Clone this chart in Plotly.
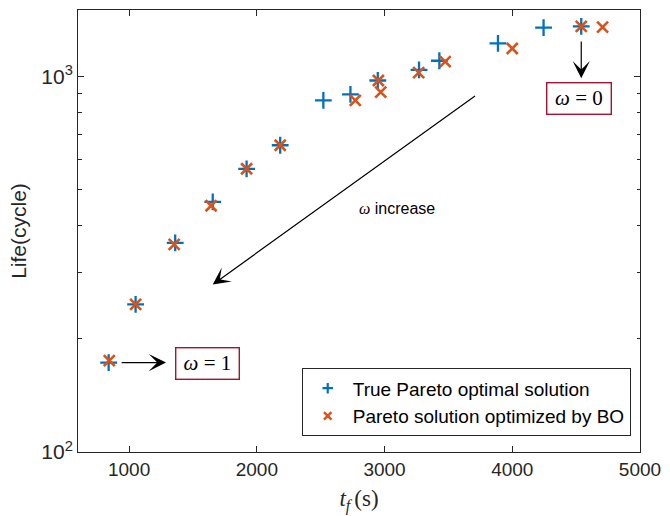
import math
import plotly.graph_objects as go

# ---------------- data ----------------
true_tf = [840, 1051, 1361, 1655, 1920, 2183, 2521, 2733, 2947, 3270, 3429, 3888, 4245, 4540]
true_life = [173, 247, 360, 463, 567, 655, 862, 894, 974, 1039, 1099, 1222, 1346, 1357]
bo_tf = [845, 1051, 1353, 1642, 1920, 2183, 2771, 2952, 2970, 3267, 3475, 4000, 4540, 4707]
bo_life = [175, 247, 357, 452, 567, 655, 862, 974, 907, 1022, 1093, 1185, 1357, 1351]

series_names = ["True Pareto optimal solution", "Pareto solution optimized by BO"]
x_ticks = [1000, 2000, 3000, 4000, 5000]
y_ticks = [100, 1000]
y_tick_text = ["10<sup>2</sup>", "10<sup>3</sup>"]
y_minor = [200, 300, 400, 500, 600, 700, 800, 900]

BLUE = "#0072BD"
ORANGE = "#D95319"
AXC = "#262626"
BOXC = "#A2142F"
SANS = "Liberation Sans, Arial, sans-serif"
SERIF = "Liberation Serif, Times New Roman, serif"

fig = go.Figure()
fig.add_trace(go.Scatter(x=true_tf, y=true_life, mode="markers", showlegend=False,
                         marker=dict(symbol="cross-thin", size=12, color=BLUE,
                                     line=dict(color=BLUE, width=2.3))))
fig.add_trace(go.Scatter(x=bo_tf, y=bo_life, mode="markers", showlegend=False,
                         marker=dict(symbol="x-thin", size=11, color=ORANGE,
                                     line=dict(color=ORANGE, width=2.6))))
# legend entries (smaller markers like the reference legend)
fig.add_trace(go.Scatter(x=[None], y=[None], mode="markers", name=series_names[0],
                         marker=dict(symbol="cross-thin", size=7.5, color=BLUE,
                                     line=dict(color=BLUE, width=2.2))))
fig.add_trace(go.Scatter(x=[None], y=[None], mode="markers", name=series_names[1],
                         marker=dict(symbol="x-thin", size=7.5, color=ORANGE,
                                     line=dict(color=ORANGE, width=2.4))))

L = math.log10
AH = dict(showarrow=True, arrowhead=3, arrowsize=2.4, arrowwidth=1.2, arrowcolor="black", text="")
annotations = [
    # omega increase arrow
    dict(x=1655, y=L(279), ax=3720, ay=L(892), axref="x", ayref="y", xref="x", yref="y", **AH),
    dict(x=3094, y=L(445), xref="x", yref="y", showarrow=False,
         text='<span style="font-family:Liberation Serif;font-style:italic">ω</span> increase',
         font=dict(family=SANS, size=16, color="black")),
    # omega = 1
    dict(x=1289, y=L(173), ax=930, ay=L(173), axref="x", ayref="y", xref="x", yref="y", **AH),
    dict(x=1614, y=2.2344, xref="x", yref="y", showarrow=False,
         text="<i>ω</i> = 1", font=dict(family=SERIF, size=21, color="black"),
         bordercolor=BOXC, borderwidth=1.4, borderpad=0, width=62, height=30, bgcolor="white"),
    # omega = 0
    dict(x=4540, y=2.9947, ax=4540, ay=3.0960, axref="x", ayref="y", xref="x", yref="y", **AH),
    dict(x=4519, y=2.9394, xref="x", yref="y", showarrow=False,
         text="<i>ω</i> = 0", font=dict(family=SERIF, size=21, color="black"),
         bordercolor=BOXC, borderwidth=1.4, borderpad=0, width=63, height=30, bgcolor="white"),
]

fig.update_layout(
    width=670, height=516,
    margin=dict(l=78, r=24, t=9, b=60),
    paper_bgcolor="white", plot_bgcolor="white",
    font=dict(family=SANS, size=19, color=AXC),
    annotations=annotations,
    legend=dict(x=0.9835, y=0.1124, xanchor="right", yanchor="middle",
                bordercolor=AXC, borderwidth=1, bgcolor="white",
                font=dict(family=SANS, size=19, color="black"),
                tracegroupgap=0, itemwidth=40),
    xaxis=dict(range=[600, 5000], tickvals=x_ticks, ticks="inside", ticklen=6, tickwidth=1,
               tickcolor=AXC, showline=True, linecolor=AXC, linewidth=1, mirror="ticks",
               showgrid=False, zeroline=False,
               tickfont=dict(family=SANS, size=19, color=AXC),
               title=dict(text="<i>t</i><sub><i>f</i> </sub>(s)", standoff=11,
                          font=dict(family=SERIF, size=23, color=AXC))),
    yaxis=dict(type="log", range=[2, L(1500)], tickvals=y_ticks, ticktext=y_tick_text,
               ticks="inside", ticklen=6, tickwidth=1, tickcolor=AXC,
               showline=True, linecolor=AXC, linewidth=1, mirror="ticks",
               showgrid=False, zeroline=False,
               minor=dict(tickvals=y_minor, ticks="inside", ticklen=3.5, tickcolor=AXC, showgrid=False),
               tickfont=dict(family=SANS, size=21, color=AXC),
               title=dict(text="Life(cycle)", standoff=8,
                          font=dict(family=SANS, size=21, color=AXC))),
)

fig.write_html("out.html")
